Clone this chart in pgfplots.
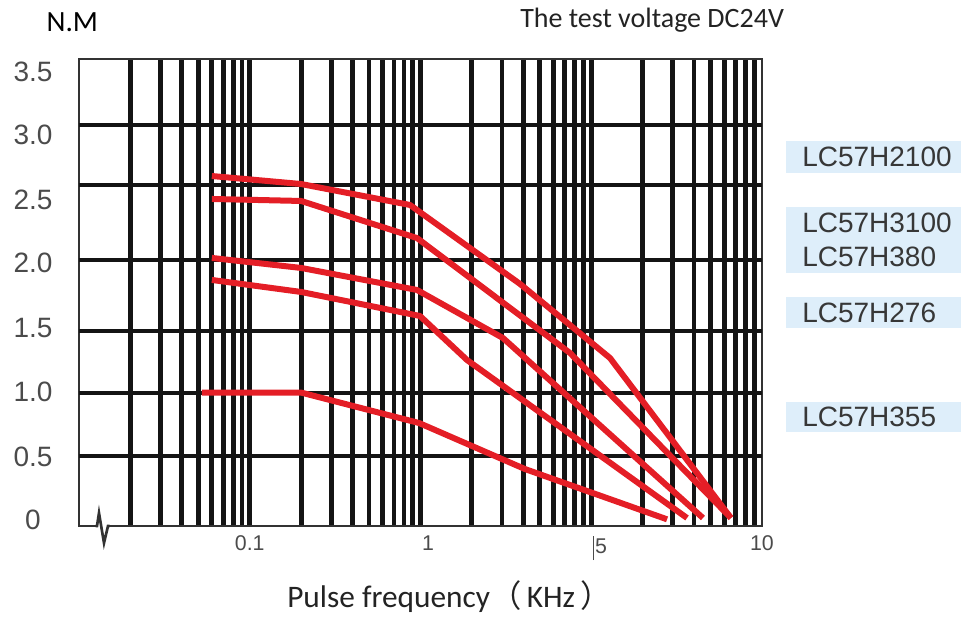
\documentclass[border=0pt]{standalone}
\usepackage{fontspec}
\setmainfont{Liberation Sans}
\newfontfamily\calibri{Carlito}
\newfontfamily\cjk{Noto Sans CJK SC}
\usepackage{pgfplots}
\pgfplotsset{compat=1.18}
\definecolor{curvered}{RGB}{228,30,38}
\definecolor{gridblack}{RGB}{20,20,20}
\definecolor{framegray}{RGB}{50,50,50}
\definecolor{labgray}{RGB}{75,75,75}
\definecolor{lcblue}{RGB}{222,238,250}
\definecolor{txtdark}{RGB}{35,35,35}
\definecolor{lctext}{RGB}{55,55,55}

\begin{document}
\begin{tikzpicture}
\path[use as bounding box] (-59.25pt,-68.25pt) rectangle (661.5pt,394.5pt);
\begin{axis}[
  at={(0pt,0pt)}, anchor=south west,
  scale only axis, width=512.25pt, height=350.25pt,
  xmode=log, log basis x=10,
  xmin=0.01, xmax=100, ymin=0, ymax=3.5,
  xtick={0.1,1.106,11.4,100},
  xticklabels={0.1,1,{\llap{\rule[-5pt]{0.8pt}{18pt}\hspace{0.4pt}}5},10},
  minor xtick={0.02,0.03,0.04,0.05,0.06,0.07,0.08,0.09,0.1,
               0.2,0.3,0.4,0.5,0.6,0.7,0.8,0.9,1,
               2,3,4,5,6,7,8,9,10,
               20,30,40,50,60,70,80,90},
  xminorgrids=true, xmajorgrids=false,
  ytick={0.045,0.517,1.004,1.484,1.971,2.443,2.930,3.402},
  yticklabels={0,0.5,1.0,1.5,2.0,2.5,3.0,3.5},
  ymajorgrids=false,
  extra y ticks={0.525,0.997,1.461,1.994,2.556,3.005},
  extra y tick labels={},
  extra y tick style={ymajorgrids=true},
  major tick length=0pt, minor tick length=0pt,
  grid style={line width=3.6pt, color=gridblack},
  minor grid style={line width=3.6pt, color=gridblack},
  major grid style={line width=3.6pt, color=gridblack},
  axis line style={line width=2pt, draw=framegray},
  xticklabel style={font=\fontsize{16}{18}\selectfont, text=labgray, yshift=-4pt},
  yticklabel style={font=\fontsize{21}{24}\selectfont, text=labgray, anchor=center, xshift=-34.5pt},
  clip=false,
]
\addplot[curvered, line width=4.5pt, line join=round] coordinates {
  (0.06,2.623) (0.2,2.563) (0.868,2.406) (3.83,1.814) (12.88,1.259) (65.8,0.06)};
\addplot[curvered, line width=4.5pt, line join=round] coordinates {
  (0.06,2.451) (0.2,2.436) (0.954,2.158) (7.51,1.297) (65.8,0.06)};
\addplot[curvered, line width=4.5pt, line join=round] coordinates {
  (0.06,2.009) (0.2,1.934) (0.954,1.769) (3.04,1.409) (45.1,0.06)};
\addplot[curvered, line width=4.5pt, line join=round] coordinates {
  (0.06,1.844) (0.2,1.754) (0.993,1.574) (1.873,1.244) (36.4,0.06)};
\addplot[curvered, line width=4.5pt, line join=round] coordinates {
  (0.0525,1.0) (0.2,1.0) (0.98,0.772) (4.09,0.427) (27.8,0.05)};
\end{axis}
% axis break on the bottom line
\draw[white, line width=3pt] (13.5pt,0pt) -- (21.75pt,0pt);
\draw[framegray, line width=2pt, line join=miter] (12.5pt,0pt) -- (13.5pt,0pt) -- (15pt,9.75pt) -- (18.75pt,-12.75pt) -- (21.75pt,0pt) -- (23pt,0pt);
% titles
\node[anchor=base west, inner sep=0pt, font=\calibri\fontsize{22}{26}\selectfont, text=black] at (-24.5pt,370.5pt) {N.M};
\node[anchor=base west, inner sep=0pt, font=\calibri\fontsize{21}{26}\selectfont, text=txtdark] at (330.75pt,373.5pt) {The test voltage DC24V};
\node[anchor=base west, inner sep=0pt, font=\calibri\fontsize{23.5}{28}\selectfont, text=txtdark] at (156pt,-61.5pt) {Pulse frequency{\cjk （}\hspace{4pt}KHz\hspace{4pt}{\cjk ）}};
% series labels
\fill[lcblue] (530.25pt,288.75pt) rectangle (661.5pt,264.75pt);
\fill[lcblue] (530.25pt,239.25pt) rectangle (661.5pt,189.75pt);
\fill[lcblue] (530.25pt,171.75pt) rectangle (661.5pt,148.5pt);
\fill[lcblue] (530.25pt,93pt) rectangle (661.5pt,70.5pt);
\begin{scope}[every node/.style={anchor=base west, inner sep=0pt, font=\fontsize{21}{24}\selectfont, text=lctext}]
\node at (542.25pt,269.25pt) {LC57H2100};
\node at (542.25pt,219.75pt) {LC57H3100};
\node at (542.25pt,194.25pt) {LC57H380};
\node at (542.25pt,152.25pt) {LC57H276};
\node at (542.25pt,74.25pt) {LC57H355};
\end{scope}
\end{tikzpicture}
\end{document}
